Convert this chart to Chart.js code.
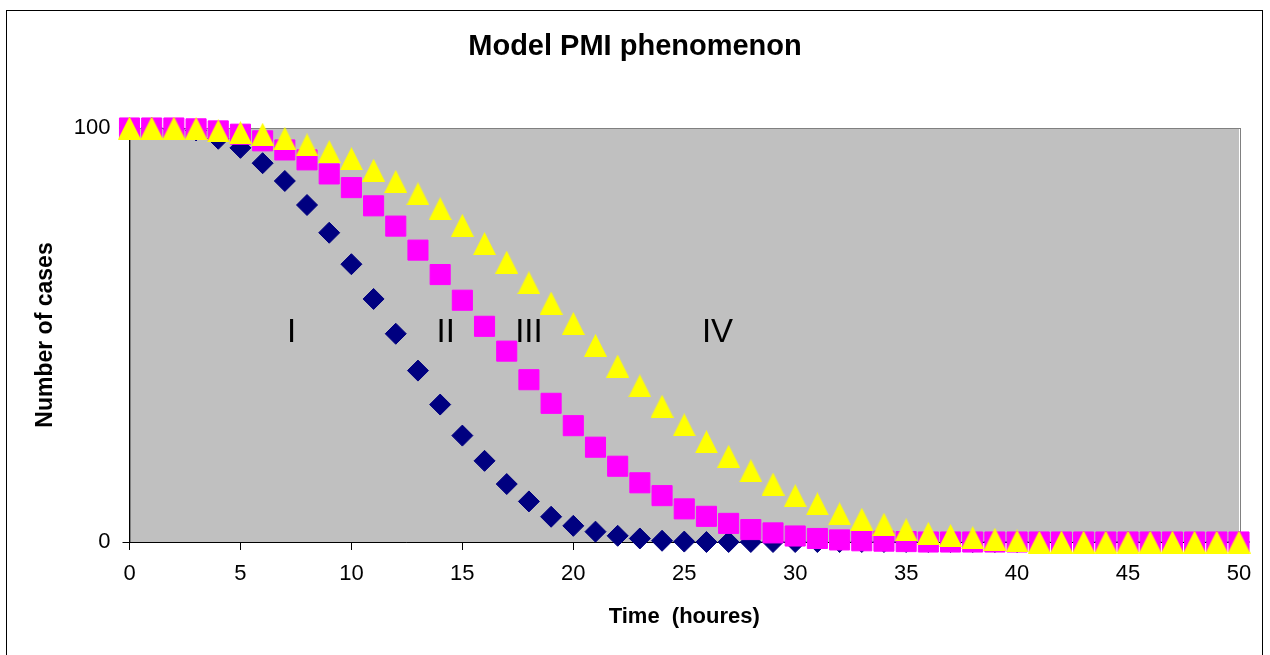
<!DOCTYPE html>
<html>
<head>
<meta charset="utf-8">
<script src="https://cdn.jsdelivr.net/npm/chart.js@4/dist/chart.umd.min.js"></script>
<style>
  html, body { margin:0; padding:0; background:#fff; }
  #wrap { width:1270px; height:655px; position:relative; }
</style>
</head>
<body>
<div id="wrap"><canvas id="c" width="1270" height="655"></canvas></div>
<script>
// time axis (hours)
const hours = [0,1,2,3,4,5,6,7,8,9,10,11,12,13,14,15,16,17,18,19,20,21,22,23,24,25,
  26,27,28,29,30,31,32,33,34,35,36,37,38,39,40,41,42,43,44,45,46,47,48,49,50];

// curve I (diamonds)
const casesDiamond = [100,100,99.8,99.4,97.4,95.2,91.5,87.2,81.4,74.7,67.1,58.7,50.3,41.4,33.2,25.7,
  19.6,14.0,9.8,6.1,3.9,2.5,1.5,0.85,0.3,0.1,
  0,0,0,0,0,0,0,0,0,0,0,0,0,0,0,0,0,0,0,0,0,0,0,0,0];

// curve II/III (squares)
const casesSquare = [100,100,100,99.8,99.3,98.5,96.9,94.7,92.3,88.9,85.6,81.2,76.3,70.5,64.6,58.4,
  52.1,46.1,39.2,33.5,28.1,22.9,18.3,14.3,11.2,8.0,6.2,4.5,3.0,2.2,1.45,0.85,0.5,0.3,0.2,0.1,
  0,0,0,0,0,0,0,0,0,0,0,0,0,0,0];

// curve IV (triangles)
const casesTriangle = [100,100,100,99.9,99.3,98.9,98.5,97.5,95.9,94.3,92.6,89.8,87.1,84.1,80.5,76.5,
  72.1,67.6,62.6,57.7,52.8,47.5,42.5,37.7,32.8,28.3,24.2,20.7,17.2,14.0,11.2,9.2,6.8,5.5,4.3,
  2.95,2.1,1.6,1.05,0.65,0.25,
  0,0,0,0,0,0,0,0,0,0];

const xTicks = [0,5,10,15,20,25,30,35,40,45,50];
const yTicks = [0,100];

// phase labels inside the plot
const noteText = ['I','II','III','IV'];
const noteX = [7.3,14.25,18.0,26.5];
const noteY = [48.3,48.3,48.3,48.3];

const FONT = 'Arial, "Liberation Sans", sans-serif';

function triangleMarker(){
  const cv = document.createElement('canvas');
  cv.width = 23; cv.height = 23;
  const g = cv.getContext('2d');
  g.fillStyle = '#FFFF00';
  g.beginPath();
  g.moveTo(11.5,0); g.lineTo(23,23); g.lineTo(0,23); g.closePath();
  g.fill();
  return cv;
}

function pts(ys){ return hours.map((h,i)=>({x:h, y:ys[i]})); }

const plotBg = {
  id:'plotBg',
  beforeDraw(chart){
    const {ctx, chartArea:a} = chart;
    ctx.save();
    // outer frame
    ctx.strokeStyle = '#000'; ctx.lineWidth = 1;
    ctx.strokeRect(6.5, 10.5, 1256, 700);
    ctx.fillStyle = '#C0C0C0';
    ctx.fillRect(a.left, a.top, a.right-a.left, a.bottom-a.top);
    ctx.strokeStyle = '#808080';
    ctx.strokeRect(Math.round(a.left)+0.5, Math.round(a.top)+0.5, Math.round(a.right-a.left), Math.round(a.bottom-a.top));
    ctx.restore();
  }
};

const notes = {
  id:'notes',
  afterDatasetsDraw(chart){
    const {ctx, scales:{x,y}} = chart;
    ctx.save();
    ctx.fillStyle = '#000';
    ctx.font = '33px ' + FONT;
    ctx.textAlign = 'center';
    ctx.textBaseline = 'alphabetic';
    noteText.forEach((t,i)=> ctx.fillText(t, x.getPixelForValue(noteX[i]), y.getPixelForValue(noteY[i])));
    ctx.restore();
  }
};

new Chart(document.getElementById('c'), {
  type:'scatter',
  data:{datasets:[
    {label:'I', data:pts(casesDiamond), pointStyle:'rectRot', pointRadius:10.5, order:2,
     backgroundColor:'#000080', borderColor:'#000080', borderWidth:1, clip:false},
    {label:'II', data:pts(casesSquare), pointStyle:'rect', pointRadius:14.2, order:1,
     backgroundColor:'#FF00FF', borderColor:'#FF00FF', borderWidth:1, clip:false},
    {label:'IV', data:pts(casesTriangle), pointStyle:triangleMarker(), pointRadius:12, order:0,
     backgroundColor:'#FFFF00', borderColor:'#FFFF00', borderWidth:0, clip:false}
  ]},
  options:{
    responsive:false, animation:false,
    layout:{autoPadding:false, padding:0},
    plugins:{
      legend:{display:false}, tooltip:{enabled:false},
      title:{display:true, text:'Model PMI phenomenon', color:'#000',
        font:{family:FONT, size:29, weight:'bold'}, padding:{top:29.6, bottom:63.6}}
    },
    scales:{
      x:{type:'linear', min:0, max:50,
        afterBuildTicks(s){ s.ticks = xTicks.map(v=>({value:v})); },
        afterFit(s){ s.height = 113; },
        grid:{drawOnChartArea:false, drawTicks:true, tickLength:8, color:'#000'},
        border:{display:true, color:'#000', width:1},
        ticks:{color:'#000', padding:11, font:{family:FONT, size:22}, maxRotation:0},
        title:{display:true, text:'Time  (houres)', color:'#000',
          font:{family:FONT, size:22, weight:'bold'}, padding:{top:0, bottom:25}}
      },
      y:{min:0, max:100,
        afterBuildTicks(s){ s.ticks = yTicks.map(v=>({value:v})); },
        afterFit(s){ s.width = 129.5; },
        grid:{drawOnChartArea:false, drawTicks:true, tickLength:7, color:'#000'},
        border:{display:true, color:'#000', width:1},
        ticks:{color:'#000', padding:12, font:{family:FONT, size:22}},
        title:{display:true, text:'Number of cases', color:'#000',
          font:{family:FONT, size:23, weight:'bold'}, padding:{top:32, bottom:0}}
      },
      // empty right margin so the title centres on the whole frame
      yRight:{position:'right', min:0, max:100,
        afterFit(s){ s.width = 31; },
        grid:{display:false}, border:{display:false}, ticks:{display:false}}
    }
  },
  plugins:[plotBg, notes]
});
</script>
</body>
</html>
